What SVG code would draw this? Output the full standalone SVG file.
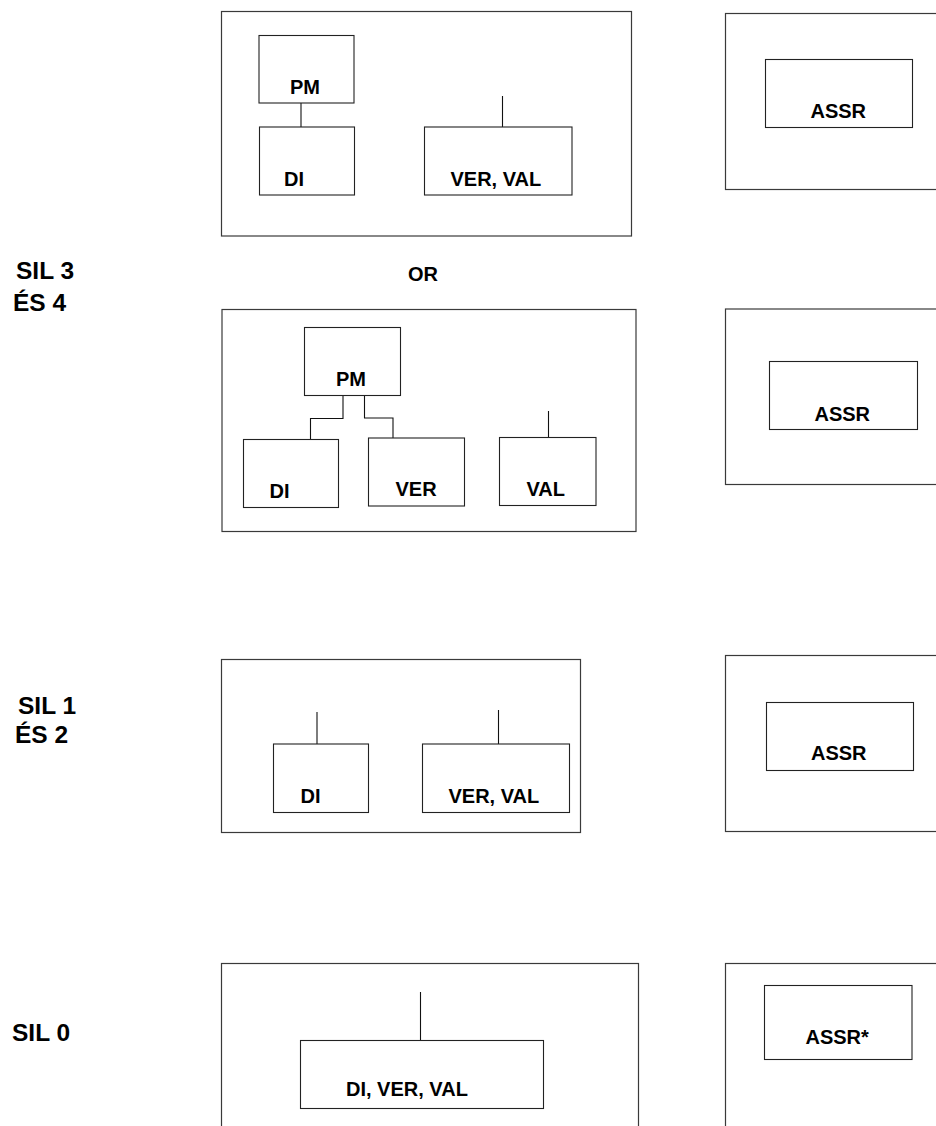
<svg xmlns="http://www.w3.org/2000/svg" width="936" height="1126" viewBox="0 0 936 1126">
<style>
.box{fill:none;stroke:#3a3a3a;stroke-width:1.2}
.inner{fill:#fff;stroke:#222;stroke-width:1.1}
.ln{fill:none;stroke:#111;stroke-width:1.1}
.t{font-family:"Liberation Sans",Arial,sans-serif;font-weight:bold;font-size:20px;fill:#000}
.sil{font-family:"Liberation Sans",Arial,sans-serif;font-weight:bold;font-size:24.5px;fill:#000}
</style>
<rect width="936" height="1126" fill="#fff"/>
<g id="labels">
<text class="sil" x="16" y="279">SIL 3</text>
<text class="sil" x="13" y="310.5">ÉS 4</text>
<text class="t" x="408" y="281">OR</text>
<text class="sil" x="18" y="714">SIL 1</text>
<text class="sil" x="15" y="743">ÉS 2</text>
<text class="sil" x="12" y="1041">SIL 0</text>
</g>
<g id="frames">
<rect id="frame-a1" class="box" x="221.5" y="11.5" width="410" height="224.5"/>
<rect id="frame-a2" class="box" x="725.5" y="13.5" width="220" height="176"/>
<rect id="frame-b1" class="box" x="222" y="309.5" width="414" height="222"/>
<rect id="frame-b2" class="box" x="725.5" y="309" width="220" height="175.5"/>
<rect id="frame-c1" class="box" x="221.5" y="659.5" width="359" height="173"/>
<rect id="frame-c2" class="box" x="725.5" y="655.5" width="220" height="176"/>
<rect id="frame-d1" class="box" x="221.5" y="963.5" width="417" height="200"/>
<rect id="frame-d2" class="box" x="725.5" y="963.5" width="220" height="200"/>
</g>
<g id="connectors">
<line class="ln" x1="301" y1="103" x2="301" y2="127"/>
<line class="ln" x1="502.5" y1="96" x2="502.5" y2="127"/>
<polyline class="ln" points="343,396 343,418.5 310.5,418.5 310.5,439.5"/>
<polyline class="ln" points="364.5,396 364.5,418 393,418 393,438"/>
<line class="ln" x1="548.5" y1="411" x2="548.5" y2="437.5"/>
<line class="ln" x1="317" y1="712" x2="317" y2="744"/>
<line class="ln" x1="498.5" y1="710" x2="498.5" y2="744"/>
<line class="ln" x1="420.5" y1="992" x2="420.5" y2="1040"/>
</g>
<g id="n-a-pm"><rect class="inner" x="259" y="35.5" width="95" height="67.5"/><text class="t" x="290" y="94">PM</text></g>
<g id="n-a-di"><rect class="inner" x="259.5" y="127" width="95" height="68"/><text class="t" x="284" y="185.5">DI</text></g>
<g id="n-a-verval"><rect class="inner" x="424.5" y="127" width="147.5" height="68"/><text class="t" x="450.5" y="185.5">VER, VAL</text></g>
<g id="n-a-assr"><rect class="inner" x="765.5" y="59.5" width="147" height="68"/><text class="t" x="810.5" y="117.5">ASSR</text></g>
<g id="n-b-pm"><rect class="inner" x="304.5" y="327.5" width="96" height="68"/><text class="t" x="336" y="385.5">PM</text></g>
<g id="n-b-di"><rect class="inner" x="243.5" y="439.5" width="95" height="68"/><text class="t" x="269.5" y="497.5">DI</text></g>
<g id="n-b-ver"><rect class="inner" x="368.5" y="438" width="96" height="68"/><text class="t" x="395.5" y="496">VER</text></g>
<g id="n-b-val"><rect class="inner" x="499.5" y="437.5" width="96.5" height="68"/><text class="t" x="526.5" y="496">VAL</text></g>
<g id="n-b-assr"><rect class="inner" x="769.5" y="361.5" width="148" height="68"/><text class="t" x="814.5" y="420.5">ASSR</text></g>
<g id="n-c-di"><rect class="inner" x="273.5" y="744" width="95" height="68.5"/><text class="t" x="300.5" y="802.5">DI</text></g>
<g id="n-c-verval"><rect class="inner" x="422.5" y="744" width="147" height="68.5"/><text class="t" x="448.5" y="802.5">VER, VAL</text></g>
<g id="n-c-assr"><rect class="inner" x="766.5" y="702.5" width="147" height="68"/><text class="t" x="811" y="760">ASSR</text></g>
<g id="n-d-diverval"><rect class="inner" x="300.5" y="1040.5" width="243" height="68"/><text class="t" x="346" y="1096">DI, VER, VAL</text></g>
<g id="n-d-assr"><rect class="inner" x="764.5" y="985.5" width="147.5" height="74"/><text class="t" x="805.5" y="1043.5">ASSR*</text></g>
</svg>
